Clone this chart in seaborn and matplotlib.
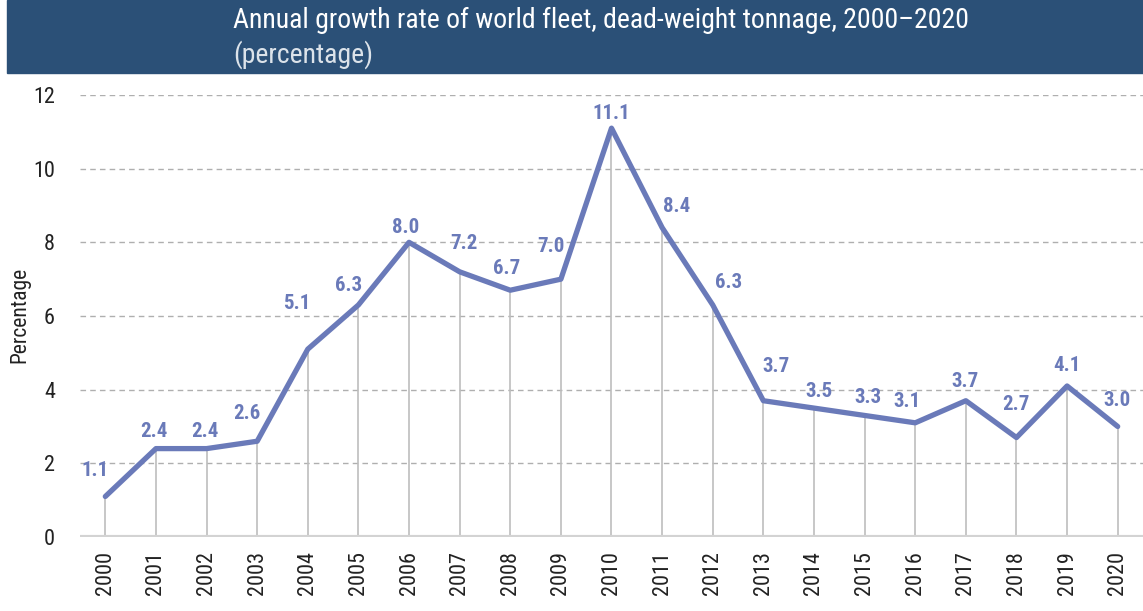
import numpy as np
import pandas as pd

import matplotlib.pyplot as plt
from matplotlib.patches import Rectangle
import seaborn as sns

sns.set_style('white')
plt.rcParams['font.family'] = ['Roboto Condensed', 'Liberation Sans Narrow', 'Liberation Sans', 'DejaVu Sans']

# Data
years = list(range(2000, 2021))
growth = [1.1, 2.4, 2.4, 2.6, 5.1, 6.3, 8.0, 7.2, 6.7, 7.0, 11.1,
          8.4, 6.3, 3.7, 3.5, 3.3, 3.1, 3.7, 2.7, 4.1, 3.0]
value_labels = ['1.1', '2.4', '2.4', '2.6', '5.1', '6.3', '8.0', '7.2', '6.7', '7.0', '11.1',
                '8.4', '6.3', '3.7', '3.5', '3.3', '3.1', '3.7', '2.7', '4.1', '3.0']

# label nudges (pixels) so they sit like the original
label_dx = [-10, -2, -2, -10, -11, -10, -3, 4, -4, -10, 0, 15, 16, 13, 5, 3, -8, -1, -1, 0, -1]
label_dy = [26, 17, 17, 28, 46, 19, 15, 28, 22, 33, 15, 21, 22, 34, 17, 18, 21, 19, 33, 20, 26]

df = pd.DataFrame({'year': years, 'growth': growth})

line_col = '#6A7AB9'
fig = plt.figure(figsize=(11.43, 6.11), dpi=100)

# header band
fig.patches.append(Rectangle((7 / 1143, 1 - 73 / 611), 1, 73 / 611,
                             transform=fig.transFigure, color='#2B5077', zorder=0))
fig.text(233 / 1143, 1 - 20 / 611, 'Annual growth rate of world fleet, dead-weight tonnage, 2000\u20132020',
         color='white', fontsize=20, va='center', ha='left')
fig.text(233 / 1143, 1 - 55 / 611, '(percentage)', color='#DCE3EA', fontsize=20,
         va='center', ha='left')

ax = fig.add_axes([80 / 1143, (611 - 537) / 611, 1063 / 1143, (537 - 95) / 611])

ax.vlines(df['year'], 0, df['growth'], color='#BDBDBD', lw=1.2, zorder=1)
sns.lineplot(data=df, x='year', y='growth', ax=ax, color=line_col, lw=3.8,
             zorder=3, clip_on=False)
ax.axhline(0, color='#D3D3D3', lw=3, zorder=2)

for x, y, t, dx, dy in zip(years, growth, value_labels, label_dx, label_dy):
    ax.annotate(t, (x, y), xytext=(dx, dy), textcoords='offset pixels',
                ha='center', va='center', fontsize=15, fontweight='bold', color=line_col)

ax.set_xlim(1999.5, 2020.5)
ax.set_ylim(0, 12)
ax.set_yticks(range(0, 13, 2))
ax.set_xticks(years)
ax.set_xticklabels([str(y) for y in years], rotation=90)
ax.tick_params(axis='x', length=0, pad=10, labelsize=16, labelcolor='#222222')
ax.tick_params(axis='y', length=0, pad=18, labelsize=16, labelcolor='#222222')
ax.yaxis.grid(True, ls=(0, (4, 3)), color='#AFAFAF', lw=1)
ax.xaxis.grid(False)
for s in ax.spines.values():
    s.set_visible(False)
ax.set_xlabel('')
ax.set_ylabel('Percentage', fontsize=15.5, color='#222222', va='center')
ax.yaxis.set_label_coords((20 - 80) / 1063, (537 - 315) / 442)

plt.savefig('out.png', dpi=100)
